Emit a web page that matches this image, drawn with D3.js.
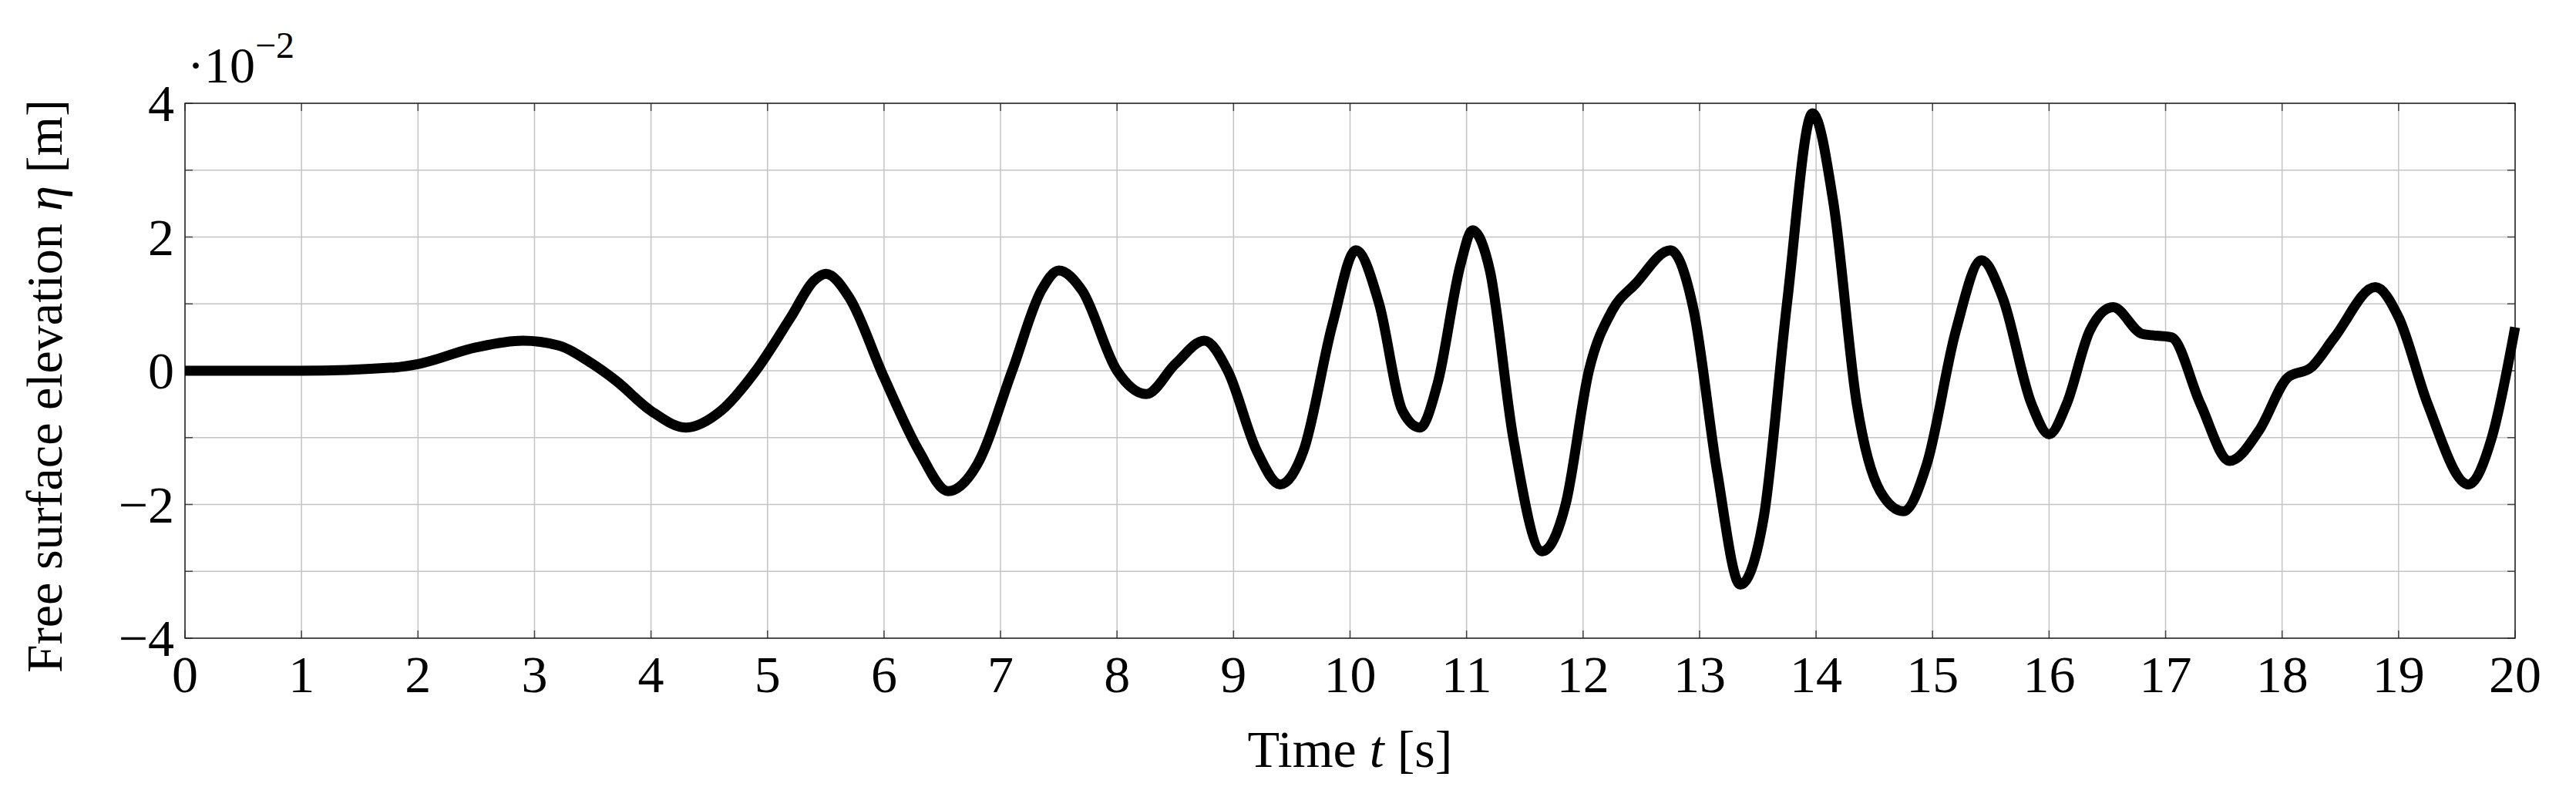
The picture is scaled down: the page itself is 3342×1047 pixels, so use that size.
<!DOCTYPE html>
<html><head><meta charset="utf-8">
<script src="https://cdn.jsdelivr.net/npm/d3@7"></script>
<style>body{margin:0;background:#fff}text{font-family:"Liberation Serif","DejaVu Serif",serif}</style>
</head><body><div class="drawBoard"></div>
<script>
// time [s] and elevation [x 1e-2 m]
const times = [0,1,1.8,2,2.5,2.9,3.2,3.5,3.7,4,4.3,4.6,4.9,5.2,5.4,5.5,5.7,6,6.3,6.55,6.8,7.1,7.35,7.5,7.7,8,8.25,8.5,8.75,8.95,9.2,9.4,9.6,9.85,10.05,10.25,10.45,10.6,10.75,10.95,11.05,11.2,11.4,11.65,11.85,12.05,12.25,12.45,12.75,12.95,13.15,13.35,13.55,13.75,13.97,14.15,14.35,14.55,14.75,14.95,15.2,15.42,15.6,15.85,16,16.15,16.35,16.55,16.8,17.05,17.3,17.55,17.8,18.05,18.25,18.45,18.8,19,19.25,19.6,19.8,20];
const eta = [0,0,0.05,0.1,0.35,0.45,0.38,0.1,-0.15,-0.6,-0.85,-0.6,0,0.8,1.35,1.45,1.1,-0.1,-1.2,-1.8,-1.4,0,1.2,1.5,1.2,0,-0.35,0.1,0.45,0,-1.2,-1.7,-1.2,0.7,1.8,1.0,-0.6,-0.85,-0.2,1.6,2.1,1.5,-1.0,-2.7,-2.0,0,0.9,1.3,1.8,0.9,-1.5,-3.2,-2.2,1.0,3.85,2.5,-0.5,-1.8,-2.1,-1.4,0.6,1.65,1.1,-0.5,-0.95,-0.5,0.6,0.95,0.55,0.5,-0.5,-1.35,-0.9,-0.1,0.05,0.5,1.25,0.8,-0.5,-1.7,-1.0,0.65];
const xTicks = d3.range(0,21,1);
const yTicks = [-4,-2,0,2,4];
const yGrid = d3.range(-4,5,1);

const W=3342,H=1047,L=240,R=3263,T=134,B=828;
const svg = d3.select('.drawBoard').append('svg').attr('width',W).attr('height',H);
const x = d3.scaleLinear().domain([0,20]).range([L,R]);
const y = d3.scaleLinear().domain([-4,4]).range([B,T]);

svg.append('g').selectAll('line').data(xTicks).join('line')
  .attr('x1',d=>x(d)).attr('x2',d=>x(d)).attr('y1',T).attr('y2',B)
  .attr('stroke','#c4c4c4').attr('stroke-width',1.5);
svg.append('g').selectAll('line').data(yGrid).join('line')
  .attr('x1',L).attr('x2',R).attr('y1',d=>y(d)).attr('y2',d=>y(d))
  .attr('stroke','#c4c4c4').attr('stroke-width',1.5);

// inward ticks
const tl=10;
[[B,-tl],[T,tl]].forEach(([yy,dd])=>svg.append('g').selectAll('line').data(xTicks).join('line')
  .attr('x1',d=>x(d)).attr('x2',d=>x(d)).attr('y1',yy).attr('y2',yy+dd).attr('stroke','#444').attr('stroke-width',1.5));
[[L,tl],[R,-tl]].forEach(([xx,dd])=>svg.append('g').selectAll('line').data(yGrid).join('line')
  .attr('y1',d=>y(d)).attr('y2',d=>y(d)).attr('x1',xx).attr('x2',xx+dd).attr('stroke','#444').attr('stroke-width',1.5));

svg.append('rect').attr('x',L).attr('y',T).attr('width',R-L).attr('height',B-T)
  .attr('fill','none').attr('stroke','#222').attr('stroke-width',1.5);

const pts = times.map((t,i)=>[t,eta[i]]);
svg.append('path').datum(pts)
  .attr('d',d3.line().x(d=>x(d[0])).y(d=>y(d[1])).curve(d3.curveMonotoneX))
  .attr('fill','none').attr('stroke','#000').attr('stroke-width',13).attr('stroke-linejoin','round');

svg.append('g').selectAll('text').data(xTicks).join('text')
  .attr('x',d=>x(d)).attr('y',898).attr('text-anchor','middle').attr('font-size',68).text(d=>d);
svg.append('g').selectAll('text').data(yTicks).join('text')
  .attr('x',226).attr('y',d=>y(d)+23).attr('text-anchor','end').attr('font-size',68)
  .text(d=>d<0?'\u2212'+(-d):d);

const ex = svg.append('text').attr('x',243).attr('y',107).attr('font-size',66);
ex.append('tspan').text('\u00b710');
ex.append('tspan').attr('dy',-32).attr('font-size',48).text('\u22122');

const xl = svg.append('text').attr('x',(L+R)/2).attr('y',995).attr('text-anchor','middle').attr('font-size',68);
xl.append('tspan').text('Time ');
xl.append('tspan').attr('font-style','italic').text('t');
xl.append('tspan').text(' [s]');

const yl = svg.append('text').attr('transform',`translate(80,${(T+B)/2+20}) rotate(-90)`).attr('text-anchor','middle').attr('font-size',66);
yl.append('tspan').text('Free surface elevation ');
yl.append('tspan').attr('font-style','italic').text('\u03b7');
yl.append('tspan').text(' [m]');
</script></body></html>
